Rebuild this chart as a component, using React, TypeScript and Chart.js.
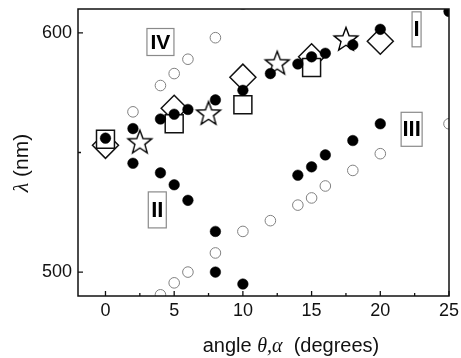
import React, { useEffect, useRef } from "react";
import { Chart, registerables } from "chart.js";

Chart.register(...registerables);

// ---- data ----
const upperFilledX = [0, 2, 4, 5, 6, 8, 10, 12, 14, 15, 16, 18, 20, 25];
const upperFilledY = [556, 560, 564, 566, 568, 572, 576, 583, 587, 590, 591.5, 595, 601.5, 609];

const branchIIX = [2, 4, 5, 6, 8, 8, 10];
const branchIIY = [545.5, 541.5, 536.5, 530, 517, 500, 495];

const branchIIIX = [14, 15, 16, 18, 20];
const branchIIIY = [540.5, 544, 549, 555, 562];

const openUpperX = [2, 4, 5, 6, 8, 10];
const openUpperY = [567, 578, 583, 589, 598, 612];

const openLowerX = [4, 5, 6, 8, 10, 12, 14, 15, 16, 18, 20, 25];
const openLowerY = [490.5, 495.5, 500, 508, 517, 521.5, 528, 531, 536, 542.5, 549.5, 562];

const squareX = [0, 5, 10, 15];
const squareY = [555.5, 562, 570, 585.5];

const diamondX = [0, 5, 10, 15, 20];
const diamondY = [553, 568.5, 581.5, 590, 596.5];

const starX = [2.5, 7.5, 12.5, 17.5];
const starY = [554.5, 566.5, 587.5, 597.5];

const xTicks = [0, 5, 10, 15, 20, 25];
const xMinorTicks = [2.5, 7.5, 12.5, 17.5, 22.5];
const yTicks = [500, 550, 600];
const yLabelled = [500, 600];

const branchLabels = ["IV", "I", "III", "II"];
const branchLabelX = [4.0, 22.64, 22.28, 3.77];
const branchLabelY = [596.2, 601.5, 559.7, 526];

// ---- styles ----
const labelBoxW = [27, 9, 21, 18];
const labelBoxH = [27, 35, 34, 36];
const labelFont = [21, 22, 22, 22];

const pts = (xs: number[], ys: number[]) => xs.map((x, i) => ({ x, y: ys[i] }));

function makeStar(): HTMLCanvasElement {
  const size = 30;
  const c = document.createElement("canvas");
  c.width = size;
  c.height = size;
  const ctx = c.getContext("2d")!;
  const R = 12.5;
  const r = R * 0.42;
  const cx = size / 2;
  const cy = size / 2 + 1;
  ctx.beginPath();
  for (let i = 0; i < 10; i++) {
    const a = -Math.PI / 2 + (i * Math.PI) / 5;
    const rad = i % 2 === 0 ? R : r;
    const px = cx + rad * Math.cos(a);
    const py = cy + rad * Math.sin(a);
    if (i === 0) ctx.moveTo(px, py);
    else ctx.lineTo(px, py);
  }
  ctx.closePath();
  ctx.fillStyle = "#ffffff";
  ctx.fill();
  ctx.lineWidth = 1.4;
  ctx.strokeStyle = "#000000";
  ctx.lineJoin = "miter";
  ctx.stroke();
  return c;
}

const SANS = "'Liberation Sans', Arial, sans-serif";
const SERIF = "'Liberation Serif', 'Times New Roman', serif";

const decorPlugin = {
  id: "decor",
  afterDatasetsDraw(chart: any) {
    const { ctx, chartArea: a, scales } = chart;
    const xs = scales.x;
    const ys = scales.y;
    ctx.save();
    // frame
    ctx.strokeStyle = "#111";
    ctx.lineWidth = 1.5;
    ctx.strokeRect(a.left, a.top, a.right - a.left, a.bottom - a.top);
    // inward ticks
    ctx.lineWidth = 1.3;
    ctx.beginPath();
    xTicks.forEach((v) => {
      const px = xs.getPixelForValue(v);
      ctx.moveTo(px, a.bottom);
      ctx.lineTo(px, a.bottom - 5);
    });
    xMinorTicks.forEach((v) => {
      const px = xs.getPixelForValue(v);
      ctx.moveTo(px, a.bottom);
      ctx.lineTo(px, a.bottom - 3);
    });
    yTicks.forEach((v) => {
      const py = ys.getPixelForValue(v);
      const len = yLabelled.includes(v) ? 5 : 3;
      ctx.moveTo(a.left, py);
      ctx.lineTo(a.left + len, py);
    });
    ctx.stroke();

    // branch labels in boxes
    branchLabels.forEach((t, i) => {
      const cx = xs.getPixelForValue(branchLabelX[i]);
      const cy = ys.getPixelForValue(branchLabelY[i]);
      const w = labelBoxW[i];
      const h = labelBoxH[i];
      ctx.fillStyle = "#ffffff";
      ctx.fillRect(cx - w / 2, cy - h / 2, w, h);
      ctx.strokeStyle = "#8a8a8a";
      ctx.lineWidth = 1.2;
      ctx.strokeRect(cx - w / 2, cy - h / 2, w, h);
      ctx.fillStyle = "#000";
      ctx.font = `bold ${labelFont[i]}px ${SANS}`;
      ctx.textAlign = "center";
      ctx.textBaseline = "middle";
      ctx.fillText(t, cx, cy + 1);
    });
    ctx.restore();
  },
  afterDraw(chart: any) {
    const { ctx } = chart;
    ctx.save();
    ctx.fillStyle = "#111";
    ctx.textBaseline = "alphabetic";
    ctx.textAlign = "left";
    // x title
    const parts: [string, string][] = [
      ["angle ", `20px ${SANS}`],
      ["\u03B8,\u03B1", `italic 20px ${SERIF}`],
      ["  (degrees)", `20px ${SANS}`],
    ];
    let total = 0;
    parts.forEach(([t, f]) => {
      ctx.font = f;
      total += ctx.measureText(t).width;
    });
    let x = 291 - total / 2;
    parts.forEach(([t, f]) => {
      ctx.font = f;
      ctx.fillText(t, x, 352);
      x += ctx.measureText(t).width;
    });
    // y title
    ctx.translate(28, 163);
    ctx.rotate(-Math.PI / 2);
    const yparts: [string, string][] = [
      ["\u03BB", `italic 22px ${SERIF}`],
      [" (nm)", `21px ${SANS}`],
    ];
    let yt = 0;
    yparts.forEach(([t, f]) => {
      ctx.font = f;
      yt += ctx.measureText(t).width;
    });
    let yx = -yt / 2;
    yparts.forEach(([t, f]) => {
      ctx.font = f;
      ctx.fillText(t, yx, 0);
      yx += ctx.measureText(t).width;
    });
    ctx.restore();
  },
};

export default function App() {
  const ref = useRef<HTMLCanvasElement | null>(null);

  useEffect(() => {
    document.body.style.margin = "0";
    const canvas = ref.current;
    if (!canvas) return;
    const star = makeStar();
    const filled = {
      pointStyle: "circle",
      pointRadius: 5.3,
      pointBackgroundColor: "#000",
      pointBorderColor: "#000",
      pointBorderWidth: 0.5,
      showLine: false,
    };
    const chart = new Chart(canvas, {
      type: "scatter",
      data: {
        datasets: [
          { label: "I", data: pts(upperFilledX, upperFilledY), order: 0, ...filled },
          { label: "II", data: pts(branchIIX, branchIIY), order: 0, ...filled },
          { label: "III", data: pts(branchIIIX, branchIIIY), order: 0, ...filled },
          {
            label: "stars",
            data: pts(starX, starY),
            order: 1,
            pointStyle: star as any,
            pointRadius: 12,
            showLine: false,
          },
          {
            label: "squares",
            data: pts(squareX, squareY),
            order: 2,
            pointStyle: "rect",
            pointRadius: 12.7,
            pointBackgroundColor: "#fff",
            pointBorderColor: "#111",
            pointBorderWidth: 1.5,
            showLine: false,
          },
          {
            label: "diamonds",
            data: pts(diamondX, diamondY),
            order: 3,
            pointStyle: "rectRot",
            pointRadius: 13,
            pointBackgroundColor: "#fff",
            pointBorderColor: "#111",
            pointBorderWidth: 1.5,
            showLine: false,
          },
          {
            label: "IV upper",
            data: pts(openUpperX, openUpperY),
            order: 4,
            pointStyle: "circle",
            pointRadius: 5.3,
            pointBackgroundColor: "rgba(255,255,255,0)",
            pointBorderColor: "#808080",
            pointBorderWidth: 1,
            showLine: false,
          },
          {
            label: "IV lower",
            data: pts(openLowerX, openLowerY),
            order: 4,
            pointStyle: "circle",
            pointRadius: 5.3,
            pointBackgroundColor: "rgba(255,255,255,0)",
            pointBorderColor: "#808080",
            pointBorderWidth: 1,
            showLine: false,
          },
        ],
      },
      options: {
        responsive: false,
        animation: false,
        events: [],
        layout: { autoPadding: false, padding: { top: 9, right: 12, left: 0, bottom: 0 } },
        plugins: {
          legend: { display: false },
          tooltip: { enabled: false },
        },
        scales: {
          x: {
            type: "linear",
            min: -2,
            max: 25,
            grid: { display: false, drawTicks: false },
            border: { display: false },
            afterBuildTicks: (s: any) => {
              s.ticks = xTicks.map((v) => ({ value: v }));
            },
            afterFit: (s: any) => {
              s.height = 62;
              s.paddingLeft = 0;
              s.paddingRight = 0;
            },
            ticks: {
              color: "#111",
              font: { family: SANS, size: 18 },
              padding: 4,
              maxRotation: 0,
              autoSkip: false,
            },
          },
          y: {
            type: "linear",
            min: 490,
            max: 610,
            grid: { display: false, drawTicks: false },
            border: { display: false },
            afterBuildTicks: (s: any) => {
              s.ticks = yTicks.map((v) => ({ value: v }));
            },
            afterFit: (s: any) => {
              s.width = 78;
              s.paddingTop = 0;
              s.paddingBottom = 0;
            },
            ticks: {
              color: "#111",
              font: { family: SANS, size: 18 },
              padding: 6,
              autoSkip: false,
              callback: (v: any) => (yLabelled.includes(Number(v)) ? String(v) : ""),
            },
          },
        },
      },
      plugins: [decorPlugin],
    });
    return () => chart.destroy();
  }, []);

  return (
    <div style={{ position: "fixed", left: 0, top: 0, width: 461, height: 358, background: "#fff" }}>
      <canvas ref={ref} width={461} height={358} style={{ width: 461, height: 358 }} />
    </div>
  );
}
